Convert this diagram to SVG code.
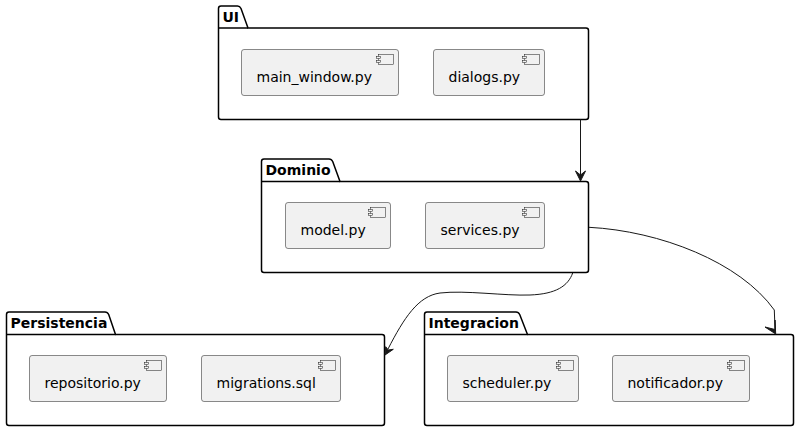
<svg xmlns="http://www.w3.org/2000/svg" width="799" height="431" viewBox="0 0 799 431">
<style>
.pkg{fill:#fff;stroke:#000;stroke-width:1.5}
.div{fill:none;stroke:#000;stroke-width:1.5}
.pt{font-family:"DejaVu Sans",sans-serif;font-size:14px;font-weight:bold;fill:#000}
.box{fill:#F1F1F1;stroke:#181818;stroke-width:.5}
.ico{fill:#F1F1F1;stroke:#181818;stroke-width:.5}
.t{font-family:"DejaVu Sans",sans-serif;font-size:14px;fill:#000}
.c{fill:none;stroke:#181818;stroke-width:1}
.h{fill:#181818;stroke:#181818;stroke-width:1}
</style>
<defs>
<g id="icon"><rect class="ico" x="-20" y="5" width="15" height="10"/><rect class="ico" x="-22" y="7" width="4" height="2"/><rect class="ico" x="-22" y="11" width="4" height="2"/></g>
</defs>
<g id="UI">
<path class="pkg" d="M221,6H237.5C239.5,6 240.3,7 241,8.5L248,28H586C587.5,28 588.5,29 588.5,30.5V117C588.5,118.5 587.5,119.5 586,119.5H221C219.5,119.5 218.5,118.5 218.5,117V8.5C218.5,7 219.5,6 221,6Z"/>
<path class="div" d="M218.5,28H248"/>
<text class="pt" x="222.5" y="22">UI</text>
</g>
<g id="main_window"><rect class="box" x="241.5" y="49.5" width="157" height="46" rx="2.5"/><use href="#icon" transform="translate(398.5,49.5)"/><text class="t" x="256.5" y="82">main_window.py</text></g>
<g id="dialogs"><rect class="box" x="433.5" y="49.5" width="111" height="46" rx="2.5"/><use href="#icon" transform="translate(544.5,49.5)"/><text class="t" x="448.5" y="82">dialogs.py</text></g>
<g id="Dominio">
<path class="pkg" d="M264,159H329C331,159 332,160 332.7,161.5L340,181.5H586C587.5,181.5 588.5,182.5 588.5,184V270C588.5,271.5 587.5,272.5 586,272.5H264C262.5,272.5 261.5,271.5 261.5,270V161.5C261.5,160 262.5,159 264,159Z"/>
<path class="div" d="M261.5,181.5H340"/>
<text class="pt" x="265.5" y="175">Dominio</text>
</g>
<g id="model"><rect class="box" x="285.5" y="202.5" width="105" height="46" rx="2.5"/><use href="#icon" transform="translate(390.5,202.5)"/><text class="t" x="300.5" y="235">model.py</text></g>
<g id="services"><rect class="box" x="425.5" y="202.5" width="119" height="46" rx="2.5"/><use href="#icon" transform="translate(544.5,202.5)"/><text class="t" x="440.5" y="235">services.py</text></g>
<g id="Persistencia">
<path class="pkg" d="M9,312H105C107,312 108,313 108.7,314.5L115.5,334.5H382C383.5,334.5 384.5,335.5 384.5,337V423C384.5,424.5 383.5,425.5 382,425.5H9C7.500,425.5 6.500,424.500 6.500,423V314.5C6.500,313 7.500,312 9,312Z"/>
<path class="div" d="M6.500,334.5H115.5"/>
<text class="pt" x="10.500" y="328">Persistencia</text>
</g>
<g id="repositorio"><rect class="box" x="29.5" y="355.5" width="137" height="46" rx="2.5"/><use href="#icon" transform="translate(166.5,355.5)"/><text class="t" x="44.5" y="388">repositorio.py</text></g>
<g id="migrations"><rect class="box" x="201.5" y="355.5" width="139" height="46" rx="2.5"/><use href="#icon" transform="translate(340.5,355.5)"/><text class="t" x="216.5" y="388">migrations.sql</text></g>
<g id="Integracion">
<path class="pkg" d="M427,312H516C518,312 519,313 519.7,314.5L527.5,334.5H791C792.5,334.5 793.5,335.5 793.5,337V423C793.5,424.5 792.5,425.5 791,425.5H427C425.5,425.5 424.5,424.500 424.5,423V314.5C424.5,313 425.5,312 427,312Z"/>
<path class="div" d="M424.5,334.5H527.5"/>
<text class="pt" x="428.5" y="328">Integracion</text>
</g>
<g id="scheduler"><rect class="box" x="447.5" y="355.5" width="131" height="46" rx="2.5"/><use href="#icon" transform="translate(578.5,355.5)"/><text class="t" x="462.5" y="388">scheduler.py</text></g>
<g id="notificador"><rect class="box" x="612.5" y="355.5" width="137" height="46" rx="2.5"/><use href="#icon" transform="translate(749.5,355.5)"/><text class="t" x="627.5" y="388">notificador.py</text></g>
<g id="connectors">
<path class="c" d="M580.5,119.500V175"/>
<path class="h" d="M580.5,181L575.500,171L580.5,175L585.500,171Z"/>
<path class="c" d="M589,227.3C660,231 740,262 774.300,310L775,329"/>
<path class="h" d="M775.700,334L765,327L775,329.500L775,320Z"/>
<path class="c" d="M572.7,273C568,286 556,294 530,295C505,296 465,290 440,293C418,296 404,318 388,349"/>
<path class="h" d="M385,355L385.700,346.700L388.300,350L393.300,349.300Z"/>
</g>
</svg>
